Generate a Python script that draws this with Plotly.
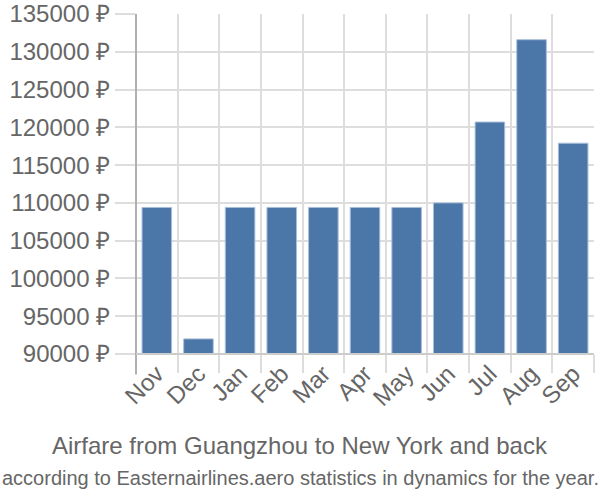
import plotly.graph_objects as go

months = ["Nov", "Dec", "Jan", "Feb", "Mar", "Apr", "May", "Jun", "Jul", "Aug", "Sep"]
prices = [109400, 92000, 109400, 109400, 109400, 109400, 109400, 110000, 120700, 131600, 117900]
y_ticks = [90000, 95000, 100000, 105000, 110000, 115000, 120000, 125000, 130000, 135000]
title_line1 = "Airfare from Guangzhou to New York and back"
title_line2 = "according to Easternairlines.aero statistics in dynamics for the year."

xs = list(range(len(months)))
font = "Liberation Sans, Arial, sans-serif"
grid = "#dddddd"
txt = "#666666"
cx = (300 - 136) / 458

fig = go.Figure(go.Bar(
    x=xs, y=prices, base=0,
    marker=dict(color="#4a76a8", line=dict(color="#a9bfd9", width=1)),
    width=0.71,
))

fig.update_layout(
    width=600, height=500,
    margin=dict(l=136, r=6, t=14, b=146),
    plot_bgcolor="white", paper_bgcolor="white",
    showlegend=False,
    font=dict(family=font, color=txt),
    xaxis=dict(
        range=[-0.5, len(months) - 0.5],
        tickmode="array", tickvals=xs, ticktext=months,
        tickangle=-45, tickfont=dict(size=24, color=txt),
        showgrid=False, ticks="", automargin=False,
        showline=False, zeroline=False,
        minor=dict(tickmode="array", tickvals=[i - 0.5 for i in range(len(months) + 1)],
                   showgrid=True, gridcolor=grid, gridwidth=2,
                   ticks="outside", ticklen=18, tickcolor=grid, tickwidth=2),
    ),
    yaxis=dict(
        range=[90000, 135000],
        tickmode="array", tickvals=y_ticks,
        ticktext=[f"{v} ₽" for v in y_ticks],
        tickfont=dict(size=24, color=txt), automargin=False,
        showgrid=True, gridcolor=grid, gridwidth=2,
        ticks="outside", ticklen=20, tickcolor=grid, tickwidth=2,
        showline=False, zeroline=False,
    ),
    shapes=[
        dict(type="line", xref="paper", yref="paper", x0=0, x1=0, y0=-0.06, y1=1,
             line=dict(color="#b0b0b0", width=2)),
        dict(type="line", xref="paper", yref="paper", x0=0, x1=1, y0=0, y1=0,
             line=dict(color="#cccccc", width=2)),
    ],
    annotations=[
        dict(text=title_line1, xref="paper", yref="paper", x=cx, y=0, xanchor="center",
             yanchor="middle", showarrow=False, font=dict(size=24, color=txt, family=font),
             yshift=-91),
        dict(text=title_line2, xref="paper", yref="paper", x=cx, y=0, xanchor="center",
             yanchor="middle", showarrow=False, font=dict(size=20, color=txt, family=font),
             yshift=-124),
    ],
)

fig.write_html("out.html")
